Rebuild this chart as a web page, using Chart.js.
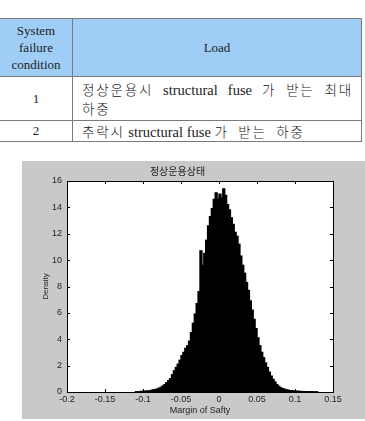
<!DOCTYPE html>
<html lang="ko">
<head>
    <meta charset="UTF-8">
    <title>정상운용상태</title>
    <script src="https://cdn.jsdelivr.net/npm/chart.js"></script>
    <style>
        body {
            margin: 0;
            padding: 0;
            width: 365px;
            height: 421px;
            background: #ffffff;
            position: relative;
            overflow: hidden;
        }
        .load-table {
            position: absolute;
            left: -1px;
            top: 18px;
            border-collapse: collapse;
            font-family: "Liberation Serif", "Noto Sans CJK KR", serif;
            font-size: 13px;
            color: #222;
        }
        .load-table th, .load-table td {
            border: 1px solid #7a7a7a;
            padding: 0 5px;
        }
        .load-table th {
            background: #9fcdf6;
            font-weight: normal;
            height: 57px;
            line-height: 17px;
        }
        .load-table td.num {
            text-align: center;
        }
        .load-table td.txt {
            padding: 0 8px 0 9px;
            line-height: 18px;
            white-space: nowrap;
            font-size: 14.5px;
        }
        .just {
            text-align: justify;
            text-align-last: justify;
        }
        .ko {
            font-family: "Noto Sans CJK KR", sans-serif;
            font-weight: 300;
            font-size: 13.5px;
            letter-spacing: 1.8px;
            word-spacing: 4px;
        }
        .figure {
            position: absolute;
            left: 22px;
            top: 161px;
            width: 343px;
            height: 258px;
            background: #c9c9c9;
        }
    </style>
</head>
<body>
    <table class="load-table">
        <tr>
            <th style="width:62px">System<br>failure<br>condition</th>
            <th style="width:278px">Load</th>
        </tr>
        <tr style="height:44px">
            <td class="num">1</td>
            <td class="txt">
                <div class="just"><span class="ko">정상운용시</span> structural fuse <span class="ko">가</span> <span class="ko">받는</span> <span class="ko">최대</span></div>
                <div><span class="ko">하중</span></div>
            </td>
        </tr>
        <tr style="height:21px">
            <td class="num">2</td>
            <td class="txt"><span class="ko">추락시</span> structural fuse <span class="ko">가 받는 하중</span></td>
        </tr>
    </table>

    <div class="figure">
        <canvas id="mosChart" width="343" height="258"></canvas>
    </div>

    <script>
        // histogram bins: left edge of first bin and bin width
        const binStart = -0.11;
        const binWidth = 0.0025;
        // density per bin
        const density = [
            0.02, 0, 0.03, 0.05, 0.04, 0.06, 0.08, 0.07, 0.12, 0.15,
            0.18, 0.22, 0.28, 0.35, 0.45, 0.55, 0.7, 0.85, 1.0, 1.3,
            1.6, 1.85, 2.1, 2.4, 2.75, 3.0, 3.3, 3.5, 3.85, 4.5,
            5.2, 5.9, 6.7, 7.6, 10.7, 9.6, 10.5, 11.5, 12.6, 13.3,
            13.9, 14.6, 15.1, 14.6, 15.0, 14.7, 15.4, 14.9, 14.2, 13.8,
            13.2, 12.7, 12.1, 11.8, 11.2, 10.3, 9.6, 9.0, 8.3, 7.7,
            6.9, 6.2, 5.5, 4.8, 4.1, 3.5, 3.0, 2.6, 2.2, 1.85,
            1.5, 1.2, 0.95, 0.75, 0.55, 0.42, 0.32, 0.25, 0.2, 0.16,
            0.13, 0.1, 0.09, 0.07, 0.06, 0.05, 0.04, 0.03, 0.03, 0.02,
            0.02, 0.01, 0.02, 0.01, 0, 0.01
        ];
        const xTicks = [-0.2, -0.15, -0.1, -0.05, 0, 0.05, 0.1, 0.15];
        const yTicks = [0, 2, 4, 6, 8, 10, 12, 14, 16];

        const points = density.map((d, i) => ({ x: binStart + binWidth * (i + 0.5), y: d }));

        // white plot area + matlab style box with inward ticks
        const boxPlugin = {
            id: 'matlabBox',
            beforeDraw(chart) {
                const a = chart.chartArea;
                const ctx = chart.ctx;
                ctx.save();
                ctx.fillStyle = '#ffffff';
                ctx.fillRect(a.left, a.top, a.right - a.left, a.bottom - a.top);
                ctx.restore();
            },
            afterDraw(chart) {
                const a = chart.chartArea;
                const ctx = chart.ctx;
                const xs = chart.scales.x;
                const ys = chart.scales.y;
                ctx.save();
                ctx.strokeStyle = '#000';
                ctx.lineWidth = 1;
                ctx.beginPath();
                xTicks.forEach(v => {
                    const px = Math.round(xs.getPixelForValue(v)) + 0.5;
                    ctx.moveTo(px, a.bottom); ctx.lineTo(px, a.bottom - 3);
                    ctx.moveTo(px, a.top); ctx.lineTo(px, a.top + 3);
                });
                yTicks.forEach(v => {
                    const py = Math.round(ys.getPixelForValue(v)) + 0.5;
                    ctx.moveTo(a.left, py); ctx.lineTo(a.left + 3, py);
                    ctx.moveTo(a.right, py); ctx.lineTo(a.right - 3, py);
                });
                ctx.stroke();
                ctx.strokeRect(Math.round(a.left) + 0.5, Math.round(a.top) + 0.5,
                    Math.round(a.right - a.left), Math.round(a.bottom - a.top));
                ctx.restore();
            }
        };

        const tickFont = { family: 'Liberation Sans, Arial, sans-serif', size: 9 };

        new Chart(document.getElementById('mosChart'), {
            type: 'bar',
            data: {
                datasets: [{
                    data: points,
                    backgroundColor: '#000000',
                    borderColor: '#000000',
                    borderWidth: 0,
                    inflateAmount: 0.7,
                    barPercentage: 1.0,
                    categoryPercentage: 1.0
                }]
            },
            options: {
                responsive: false,
                animation: false,
                layout: { padding: { left: 0, right: 32, top: 0, bottom: 0 } },
                plugins: {
                    legend: { display: false },
                    tooltip: { enabled: false },
                    title: {
                        display: true,
                        text: '정상운용상태',
                        color: '#222',
                        font: { family: 'Noto Sans CJK KR, sans-serif', size: 10, weight: 'normal', lineHeight: 1.2 },
                        padding: { top: 4, bottom: 4 }
                    }
                },
                scales: {
                    x: {
                        type: 'linear',
                        min: -0.2,
                        max: 0.15,
                        offset: false,
                        grid: { display: false, drawTicks: false, offset: false },
                        border: { display: false },
                        afterBuildTicks: s => { s.ticks = xTicks.map(v => ({ value: v })); },
                        ticks: {
                            color: '#222',
                            font: tickFont,
                            padding: 2,
                            maxRotation: 0,
                            autoSkip: false,
                            callback: v => String(Number(v.toFixed(3)))
                        },
                        title: {
                            display: true,
                            text: 'Margin of Safty',
                            color: '#222',
                            font: { family: 'Liberation Sans, Arial, sans-serif', size: 9 },
                            padding: { top: 1, bottom: 3 }
                        },
                        afterFit: s => { s.height = 27; }
                    },
                    y: {
                        min: 0,
                        max: 16,
                        grid: { display: false, drawTicks: false },
                        border: { display: false },
                        afterBuildTicks: s => { s.ticks = yTicks.map(v => ({ value: v })); },
                        ticks: { color: '#222', font: tickFont, padding: 5 },
                        title: {
                            display: true,
                            text: 'Density',
                            color: '#222',
                            font: { family: 'Liberation Sans, Arial, sans-serif', size: 8 },
                            padding: { top: 19, bottom: 2 }
                        },
                        afterFit: s => { s.width = 45; }
                    }
                }
            },
            plugins: [boxPlugin]
        });
    </script>
</body>
</html>
